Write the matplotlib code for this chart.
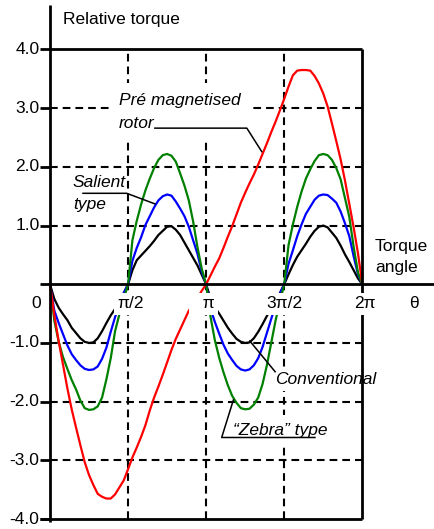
"""Relative torque against torque angle for four rotor types (0 to 2*pi)."""

import matplotlib.pyplot as plt
import numpy as np

plt.rcParams["font.family"] = ["Liberation Sans", "DejaVu Sans"]

# sample angles, degrees
ANGLE_DEG = list(range(0, 365, 5))

# relative torque, one value per 5 degrees
CONVENTIONAL = [
    0.00, -0.25, -0.40, -0.51, -0.61, -0.74, -0.83, -0.92, -0.98, -1.00, -0.99, -0.92, -0.80, -0.66, -0.53, -0.42, -0.29, -0.15,
    0.00, 0.24, 0.41, 0.49, 0.57, 0.65, 0.74, 0.84, 0.91, 0.98, 0.99, 0.93, 0.84, 0.71, 0.58, 0.45, 0.32, 0.16,
    0.00, -0.24, -0.39, -0.50, -0.62, -0.74, -0.84, -0.93, -0.98, -1.00, -0.99, -0.92, -0.81, -0.68, -0.54, -0.42, -0.29, -0.15,
    0.00, 0.17, 0.33, 0.47, 0.58, 0.69, 0.81, 0.91, 0.98, 1.00, 0.97, 0.88, 0.79, 0.66, 0.51, 0.38, 0.24, 0.10, 0.00,
]
SALIENT = [
    0.00, -0.45, -0.66, -0.85, -1.04, -1.19, -1.29, -1.38, -1.44, -1.46, -1.45, -1.40, -1.27, -1.08, -0.81, -0.56, -0.34, -0.15,
    0.00, 0.40, 0.62, 0.80, 1.01, 1.16, 1.31, 1.43, 1.50, 1.53, 1.51, 1.41, 1.29, 1.16, 0.98, 0.75, 0.52, 0.21,
    0.00, -0.42, -0.64, -0.84, -1.03, -1.18, -1.29, -1.39, -1.45, -1.47, -1.45, -1.38, -1.26, -1.07, -0.83, -0.59, -0.36, -0.16,
    0.00, 0.35, 0.58, 0.82, 1.02, 1.20, 1.32, 1.44, 1.51, 1.53, 1.52, 1.46, 1.39, 1.24, 1.04, 0.82, 0.48, 0.17, 0.00,
]
ZEBRA = [
    0.00, -0.62, -0.98, -1.24, -1.44, -1.63, -1.79, -1.98, -2.11, -2.14, -2.13, -2.08, -1.93, -1.62, -1.26, -0.80, -0.51, -0.25,
    0.00, 0.75, 1.08, 1.36, 1.60, 1.80, 1.98, 2.12, 2.20, 2.22, 2.19, 2.09, 1.89, 1.68, 1.43, 1.07, 0.63, 0.26,
    0.00, -0.55, -0.95, -1.25, -1.50, -1.72, -1.90, -2.02, -2.11, -2.13, -2.12, -2.05, -1.93, -1.70, -1.38, -1.00, -0.62, -0.30,
    0.00, 0.67, 1.02, 1.32, 1.58, 1.80, 1.96, 2.10, 2.20, 2.22, 2.20, 2.12, 1.98, 1.79, 1.47, 1.15, 0.64, 0.20, 0.00,
]
PRE_MAGNETISED = [
    0.00, -0.53, -0.97, -1.37, -1.77, -2.13, -2.44, -2.74, -3.03, -3.25, -3.42, -3.57, -3.62, -3.65, -3.65, -3.58, -3.46, -3.34,
    -3.15, -2.95, -2.78, -2.60, -2.40, -2.15, -1.93, -1.74, -1.54, -1.33, -1.12, -0.93, -0.77, -0.61, -0.45, -0.34, -0.23, -0.11,
    0.00, 0.15, 0.30, 0.44, 0.62, 0.81, 0.99, 1.19, 1.39, 1.56, 1.72, 1.87, 2.04, 2.22, 2.40, 2.59, 2.77, 2.96,
    3.16, 3.37, 3.56, 3.64, 3.65, 3.65, 3.64, 3.55, 3.42, 3.25, 3.03, 2.74, 2.44, 2.13, 1.77, 1.37, 0.97, 0.53, 0.00,
]

Y_TICKS = [4.0, 3.0, 2.0, 1.0, -1.0, -2.0, -3.0, -4.0]
Y_TICK_LABELS = ["4.0", "3.0", "2.0", "1.0", "-1.0", "-2.0", "-3.0", "-4.0"]
X_TICKS = [np.pi / 2, np.pi, 3 * np.pi / 2, 2 * np.pi]
X_TICK_LABELS = ["\u03c0/2", "  \u03c0", "3\u03c0/2", "2\u03c0"]
X_TICK_HA = ["center", "right", "center", "center"]
X_TICK_SHIFT = [0.05, 0.17, 0.0, 0.05]
GRID_Y = [3.0, 2.0, 1.0, -1.0, -2.0, -3.0]

TWO_PI = 2 * np.pi
DASH = (0, (3.7, 2.4))


def draw_frame(ax):
    kw = dict(color="black", lw=2.0, solid_capstyle="butt", zorder=4)
    ax.plot([0, 0], [-4.05, 4.76], **kw)
    ax.plot([-0.2, 7.8], [0, 0], **kw)
    ax.plot([0, TWO_PI], [4, 4], **kw)
    ax.plot([-0.2, TWO_PI], [-4, -4], **kw)
    ax.plot([TWO_PI, TWO_PI], [-4, 4], **kw)
    for y in Y_TICKS:
        ax.plot([-0.2, 0], [y, y], **kw)

    for y in GRID_Y:
        ax.plot([0, TWO_PI], [y, y], color="black", lw=1.5, ls=DASH, zorder=1)
    for x in X_TICKS[:-1]:
        ax.plot([x, x], [-4, 4], color="black", lw=1.5, ls=DASH, zorder=1)


def draw_labels(ax):
    box = dict(facecolor="white", edgecolor="none", boxstyle="square,pad=0.2")
    for y, lab in zip(Y_TICKS, Y_TICK_LABELS):
        ax.text(-0.21, y, lab, ha="right", va="center", fontsize=12.5)
    for x, lab, ha, dx in zip(X_TICKS, X_TICK_LABELS, X_TICK_HA, X_TICK_SHIFT):
        ax.text(x + dx, -0.41, lab, ha=ha, va="baseline", fontsize=12.5,
                bbox=box, zorder=5)
    ax.text(-0.27, -0.41, "0", ha="center", va="baseline", fontsize=12.5)
    ax.text(7.32, -0.41, "\u03b8", ha="center", va="baseline", fontsize=12.5)

    ax.text(0.256, 4.434, "Relative torque", ha="left", va="baseline", fontsize=12.5)
    ax.text(6.54, 0.572, "Torque", ha="left", va="baseline", fontsize=12.5)
    ax.text(6.54, 0.215, "angle", ha="left", va="baseline", fontsize=12.5)


def draw_annotations(ax):
    lead = dict(color="black", lw=1.1, zorder=3.5)
    it = dict(fontsize=12.5, style="italic", ha="left", va="baseline")

    # va="baseline" on two lines pins the last line ("rotor")
    ax.text(1.388, 2.66, "Pr\u00e9 magnetised\nrotor", linespacing=1.65, zorder=3,
            bbox=dict(facecolor="white", edgecolor="none", boxstyle="square,pad=0.6"), **it)
    ax.plot([2.11, 3.96, 4.26], [2.66, 2.66, 2.26], **lead)

    ax.text(0.457, 1.652, "Salient", **it)
    ax.text(0.457, 1.283, "type", **it)
    ax.plot([0.664, 1.543, 2.11], [1.55, 1.55, 1.37], **lead)

    ax.text(4.527, -1.704, "Conventional", zorder=3,
            bbox=dict(facecolor="white", edgecolor="none", boxstyle="square,pad=0.2"), **it)
    ax.plot([4.02, 4.53], [-0.966, -1.49], **lead)

    ax.text(3.688, -2.567, "\u201cZebra\u201d type", zorder=3,
            bbox=dict(facecolor="white", edgecolor="none", boxstyle="square,pad=0.45"), **it)
    ax.plot([3.69, 3.454, 5.33], [-1.97, -2.61, -2.61], **lead)


def main():
    fig = plt.figure(figsize=(4.35, 5.29), dpi=100)
    ax = fig.add_axes([0, 0, 1, 1])
    ax.set_xlim(-1.006, 7.746)
    ax.set_ylim(-4.169, 4.843)
    ax.axis("off")

    theta = np.deg2rad(ANGLE_DEG)
    for values, color in [(CONVENTIONAL, "black"), (SALIENT, "#0000ff"),
                          (ZEBRA, "#008000"), (PRE_MAGNETISED, "#ff0000")]:
        ax.plot(theta, values, color=color, lw=1.6, zorder=2)

    draw_frame(ax)
    draw_labels(ax)
    draw_annotations(ax)

    fig.savefig("out.png", dpi=100)


if __name__ == "__main__":
    main()
